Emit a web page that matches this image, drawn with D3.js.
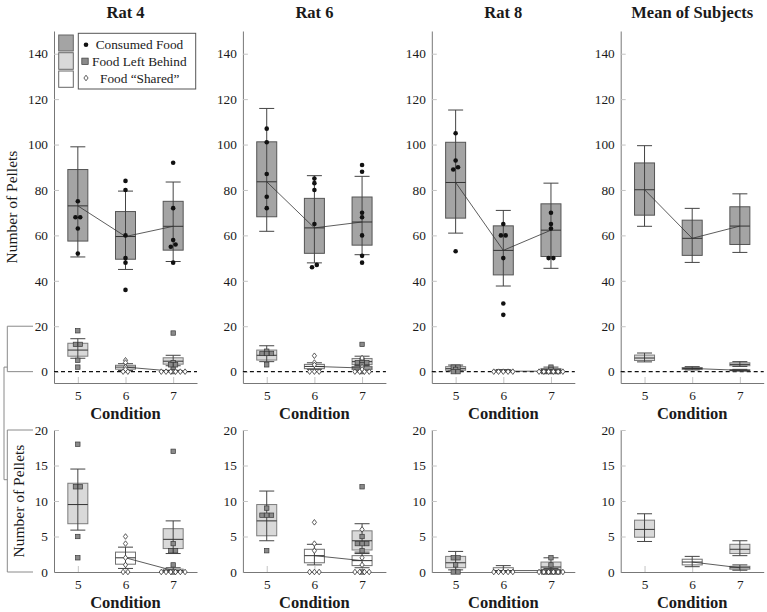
<!DOCTYPE html>
<html><head><meta charset="utf-8">
<script src="https://cdn.jsdelivr.net/npm/d3@7"></script>
<style>
body{margin:0;background:#fff;}
svg{display:block;}
</style>
</head><body><svg id="c" width="767" height="612"></svg>
<script>
// ---------------- data ----------------
const panels = ["Rat 4", "Rat 6", "Rat 8", "Mean of Subjects"];
const conditions = [5, 6, 7];
const topTicks = [0, 20, 40, 60, 80, 100, 120, 140];
const bottomTicks = [0, 5, 10, 15, 20];
const legendLabels = ["Consumed Food", "Food Left Behind", "Food \u201CShared\u201D"];

// box statistics: [lower whisker, q1, median, q3, upper whisker]
const consumedBox = [
  [[50.5, 57.5, 73, 89, 99], [45, 49.5, 59.5, 70.5, 79.5], [48.5, 53.5, 64, 75, 83.5]],
  [[61.8, 68.2, 83.6, 101.2, 115.9], [47.9, 52.1, 63.3, 76.3, 86.3], [51.5, 55.7, 65.9, 76.9, 86]],
  [[61, 67.6, 83.3, 101, 115.2], [37.7, 42.6, 53.4, 64.2, 71], [45.5, 50.7, 62.3, 73.9, 83]],
  [[64, 68.9, 80.1, 91.9, 99.5], [48.1, 51.2, 58.7, 66.7, 71.9], [52.5, 56, 64.1, 72.6, 78.3]]
];
const consumedPts = [
  [[75, 68, 68, 63, 52], [84, 80, 60, 50, 48, 36], [92, 72, 58, 56, 55, 48]],
  [[107, 101, 87, 77, 72], [85, 83, 80, 65, 47, 46], [91, 88, 70, 68, 60, 51, 48]],
  [[105, 93, 90, 89, 53], [65, 60, 60, 50, 30, 25], [70, 65, 63, 50, 50]],
  [[], [], []]
];
const leftBox = [
  [[5.9, 6.8, 9.5, 12.5, 14.5], null, [2.6, 3.3, 4.6, 6.1, 7.2]],
  [[4.4, 5.1, 7.2, 9.5, 11.4], null, [2.8, 3.1, 4.4, 5.8, 6.8]],
  [[0.3, 0.6, 1.3, 2.2, 2.9], null, [0, 0.1, 0.7, 1.4, 2.0]],
  [[4.3, 4.9, 6.0, 7.3, 8.2], null, [2.3, 2.6, 3.2, 3.9, 4.4]]
];
const leftPts = [
  [[18, 12, 12, 5, 2], [], [17, 4, 3, 3, 1, 0]],
  [[9, 8, 8, 8, 3], [], [12, 5, 4, 4, 4, 3, 0]],
  [[2, 2, 1, 0, 0], [], [2, 1, 0, 0, 0, 0]],
  [[], [], []]
];
const sharedBox = [
  [null, [0.5, 1.1, 2.0, 2.8, 3.5], [0, 0.05, 0.2, 0.4, 0.6]],
  [null, [1.0, 1.3, 2.3, 3.2, 3.9], [0.6, 0.9, 1.6, 2.3, 2.6]],
  [null, [0, 0.05, 0.2, 0.6, 0.9], [0, 0.05, 0.2, 0.3, 0.5]],
  [null, [0.75, 1.0, 1.4, 1.8, 2.2], [0.25, 0.4, 0.6, 0.8, 1.0]]
];
const sharedPts = [
  [[], [5, 4, 2, 1, 0, 0], [0, 0, 0, 0, 0, 0]],
  [[], [7, 4, 3, 0, 0, 0], [6, 2, 1, 0, 0, 0, 0]],
  [[], [0, 0, 0, 0, 0], [0, 0, 0, 0, 0, 0]],
  [[], [], []]
];

// ---------------- layout ----------------
const FONT = "'Liberation Serif', 'DejaVu Serif', serif";
const svg = d3.select("#c").attr("font-family", FONT);
const panelLeft = 54, panelStep = 188.9, panelW = 143;
const topRange = [383, 31], botRange = [572, 430];
const series = [
  {box: consumedBox, pts: consumedPts, fill: "#a4a4a4", stroke: "#555", tol: 1, shape: "circle", line: true},
  {box: leftBox, pts: leftPts, fill: "#d9d9d9", stroke: "#7c7c7c", tol: 0, shape: "square", line: false},
  {box: sharedBox, pts: sharedPts, fill: "#ffffff", stroke: "#707070", tol: 0, shape: "diamond", line: true}
];

function jitter(vals, tol) {
  const idx = vals.map((v, i) => i).sort((a, b) => vals[a] - vals[b]);
  const off = new Array(vals.length).fill(0);
  let g = [];
  const flush = () => { g.forEach((k, j) => off[k] = (j - (g.length - 1) / 2) * 0.1); g = []; };
  idx.forEach(k => { if (g.length && vals[k] - vals[g[g.length - 1]] > tol) flush(); g.push(k); });
  flush();
  return off;
}

function drawBox(g, x, y, c, s, sr) {
  const cx = x(c), bw = 10, cw = 7.5;
  g.append("rect").attr("x", cx - bw).attr("y", y(s[3])).attr("width", 2 * bw)
    .attr("height", Math.max(0.5, y(s[1]) - y(s[3])))
    .attr("fill", sr.fill).attr("stroke", sr.stroke).attr("stroke-width", 1);
  g.append("line").attr("x1", cx).attr("x2", cx).attr("y1", y(s[0])).attr("y2", y(s[4]))
    .attr("stroke", "#444").attr("stroke-width", 1);
  [s[0], s[4]].forEach(v => g.append("line").attr("x1", cx - cw).attr("x2", cx + cw)
    .attr("y1", y(v)).attr("y2", y(v)).attr("stroke", "#444").attr("stroke-width", 1));
  g.append("line").attr("x1", cx - bw).attr("x2", cx + bw).attr("y1", y(s[2])).attr("y2", y(s[2]))
    .attr("stroke", "#333").attr("stroke-width", 1);
}

function drawPoint(g, px, py, shape) {
  if (shape === "circle") {
    g.append("circle").attr("cx", px).attr("cy", py).attr("r", 2.3).attr("fill", "#111");
  } else if (shape === "square") {
    g.append("rect").attr("x", px - 2.2).attr("y", py - 2.2).attr("width", 4.4).attr("height", 4.4)
      .attr("fill", "#8a8a8a").attr("stroke", "#3a3a3a").attr("stroke-width", 0.7);
  } else {
    const d = 2.8;
    g.append("path").attr("d", `M${px},${py - d}L${px + d * 0.75},${py}L${px},${py + d}L${px - d * 0.75},${py}Z`)
      .attr("fill", "#fff").attr("stroke", "#333").attr("stroke-width", 0.8);
  }
}

function drawSeries(g, x, y, p, whichSeries) {
  whichSeries.forEach(sr => {
    conditions.forEach((c, ci) => { const s = sr.box[p][ci]; if (s) drawBox(g, x, y, c, s, sr); });
  });
  whichSeries.forEach(sr => {
    if (!sr.line) return;
    const pts = conditions.map((c, ci) => sr.box[p][ci] ? [x(c), y(sr.box[p][ci][2])] : null).filter(d => d);
    g.append("path").attr("d", d3.line()(pts)).attr("fill", "none").attr("stroke", "#333").attr("stroke-width", 0.8);
  });
  whichSeries.forEach(sr => {
    conditions.forEach((c, ci) => {
      const vals = sr.pts[p][ci];
      const off = jitter(vals, sr.tol);
      vals.forEach((v, k) => drawPoint(g, x(c + off[k]), y(v), sr.shape));
    });
  });
}

function styleAxis(a) {
  a.attr("font-family", FONT).attr("font-size", 13.3);
  a.select(".domain").attr("stroke", "#777");
  a.selectAll(".tick line").attr("stroke", "#c4c4c4");
  a.selectAll(".tick text").attr("fill", "#1a1a1a");
}

panels.forEach((name, p) => {
  const x0 = panelLeft + p * panelStep;
  const x = d3.scaleLinear().domain([4.5, 7.5]).range([x0, x0 + panelW]);
  const yT = d3.scaleLinear().domain([-5, 150]).range(topRange);
  const yB = d3.scaleLinear().domain([0, 20]).range(botRange);

  // title
  svg.append("text").attr("x", x0 + panelW / 2).attr("y", 18).attr("text-anchor", "middle")
    .attr("font-weight", "bold").attr("font-size", 16.5).attr("fill", "#1a1a1a").text(name);

  [[yT, topTicks, topRange[0]], [yB, bottomTicks, botRange[0]]].forEach(([y, ticks, base], row) => {
    const ax = svg.append("g").attr("transform", `translate(${x0},0)`)
      .call(d3.axisLeft(y).tickValues(ticks).tickFormat(d3.format("d")).tickSizeInner(-5).tickSizeOuter(0).tickPadding(6));
    styleAxis(ax);
    const bx = svg.append("g").attr("transform", `translate(0,${base})`)
      .call(d3.axisBottom(x).tickValues(conditions).tickFormat(d3.format("d")).tickSizeInner(-6).tickSizeOuter(0).tickPadding(7.5));
    styleAxis(bx);
    svg.append("text").attr("x", x0 + panelW / 2).attr("y", base + 36).attr("text-anchor", "middle")
      .attr("font-weight", "bold").attr("font-size", 16.5).attr("fill", "#1a1a1a").text("Condition");
    if (row === 0) {
      svg.append("line").attr("x1", x0).attr("x2", x0 + panelW).attr("y1", y(0)).attr("y2", y(0))
        .attr("stroke", "#111").attr("stroke-width", 1.3).attr("stroke-dasharray", "4,3");
    }
    const g = svg.append("g");
    drawSeries(g, x, y, p, series.slice(row === 0 ? 0 : 1));
  });

  if (p === 0) {
    // y labels
    svg.append("text").attr("transform", `translate(17,${(topRange[0] + topRange[1]) / 2}) rotate(-90)`)
      .attr("text-anchor", "middle").attr("font-size", 15.5).attr("fill", "#1a1a1a").text("Number of Pellets");
    svg.append("text").attr("transform", `translate(24,${(botRange[0] + botRange[1]) / 2}) rotate(-90)`)
      .attr("text-anchor", "middle").attr("font-size", 15.5).attr("fill", "#1a1a1a").text("Number of Pellets");
    // zoom brackets
    const br = d3.path();
    br.moveTo(x0 - 21, yT(20)); br.lineTo(7.3, yT(20)); br.lineTo(7.3, yT(0)); br.lineTo(x0 - 21, yT(0));
    br.moveTo(x0 - 21, yB(20)); br.lineTo(7.3, yB(20)); br.lineTo(7.3, yB(0)); br.lineTo(x0 - 21, yB(0));
    br.moveTo(7.3, yT(2)); br.lineTo(4, yT(2)); br.lineTo(4, yB(13)); br.lineTo(7.3, yB(13));
    svg.append("path").attr("d", br.toString()).attr("fill", "none").attr("stroke", "#8a8a8a").attr("stroke-width", 1);

    // legend
    const sw = [[35, 51], [52.7, 69.3], [71, 87.3]];
    series.forEach((sr, i) => {
      svg.append("rect").attr("x", 58.7).attr("y", sw[i][0]).attr("width", 14.6).attr("height", sw[i][1] - sw[i][0])
        .attr("fill", sr.fill).attr("stroke", "#666").attr("stroke-width", 1);
    });
    svg.append("rect").attr("x", 78.3).attr("y", 33.3).attr("width", 117.4).attr("height", 55.7)
      .attr("fill", "#fff").attr("stroke", "#555").attr("stroke-width", 1);
    const lg = svg.append("g");
    const my = [44.7, 61.3, 78], tx = [95.7, 92, 100], mx = [86, 85, 86];
    series.forEach((sr, i) => {
      if (sr.shape === "square") {
        lg.append("rect").attr("x", mx[i] - 3.2).attr("y", my[i] - 3.2).attr("width", 6.4).attr("height", 6.4)
          .attr("fill", "#8a8a8a").attr("stroke", "#3a3a3a").attr("stroke-width", 0.7);
      } else drawPoint(lg, mx[i], my[i], sr.shape);
      lg.append("text").attr("x", tx[i]).attr("y", my[i] + 4.5).attr("font-size", 13.3).attr("fill", "#1a1a1a").text(legendLabels[i]);
    });
  }
});
</script>
</body></html>
